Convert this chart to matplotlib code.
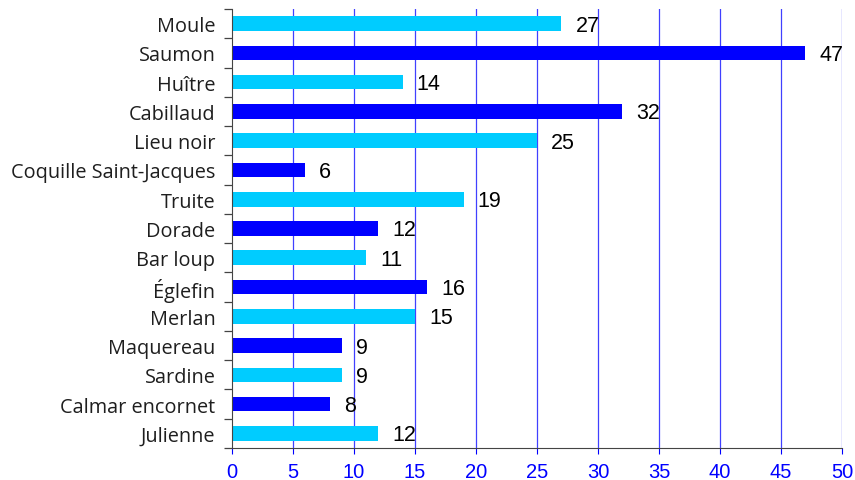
import numpy as np
import matplotlib
matplotlib.use("Agg")
import matplotlib.pyplot as plt

# Data
especes = ["Moule", "Saumon", "Huître", "Cabillaud", "Lieu noir",
           "Coquille Saint-Jacques", "Truite", "Dorade", "Bar loup", "Églefin",
           "Merlan", "Maquereau", "Sardine", "Calmar encornet", "Julienne"]
valeurs = [27, 47, 14, 32, 25, 6, 19, 12, 11, 16, 15, 9, 9, 8, 12]
x_ticks = [0, 5, 10, 15, 20, 25, 30, 35, 40, 45, 50]

light = "#00ccff"
dark = "#0000ff"

fig = plt.figure(figsize=(8.55, 4.81), dpi=100)
ax = fig.add_axes([232/855, 1-449/481, 610/855, 439/481])

n = len(especes)
pos = np.arange(n)[::-1]
colors = [light if i % 2 == 0 else dark for i in range(n)]

# grid lines behind bars
for t in x_ticks[1:]:
    ax.axvline(t, color=dark, lw=0.9, alpha=0.75, zorder=1)

ax.barh(pos, valeurs, height=0.5, color=colors, zorder=2)

for p, v in zip(pos, valeurs):
    ax.text(v + 1.15, p - 0.05, str(v), va="center", ha="left", fontsize=15.5,
            family="Liberation Sans", color="black", zorder=3)

ax.set_xlim(0, 50)
ax.set_ylim(-0.5, n - 0.5)
ax.set_xticks(x_ticks)
ax.set_xticklabels([str(t) for t in x_ticks], color=dark, fontsize=14.5,
                   family=["Liberation Sans Narrow", "Liberation Sans"])
ax.tick_params(axis="x", colors=dark, length=4, width=0.8, labelcolor=dark, pad=6)

ax.set_yticks(pos)
ax.set_yticklabels(especes, fontsize=14.3, family="Open Sans", color="#1e1e1e")
ax.set_yticks(np.arange(n + 1) - 0.5, minor=True)
ax.tick_params(axis="y", which="major", length=0, pad=12)
ax.tick_params(axis="y", which="minor", length=6, width=0.9, color="#444444")

for s in ["top", "right"]:
    ax.spines[s].set_visible(False)
ax.spines["left"].set_color("#444444")
ax.spines["bottom"].set_color("#444444")

fig.savefig("out.png", dpi=100)
